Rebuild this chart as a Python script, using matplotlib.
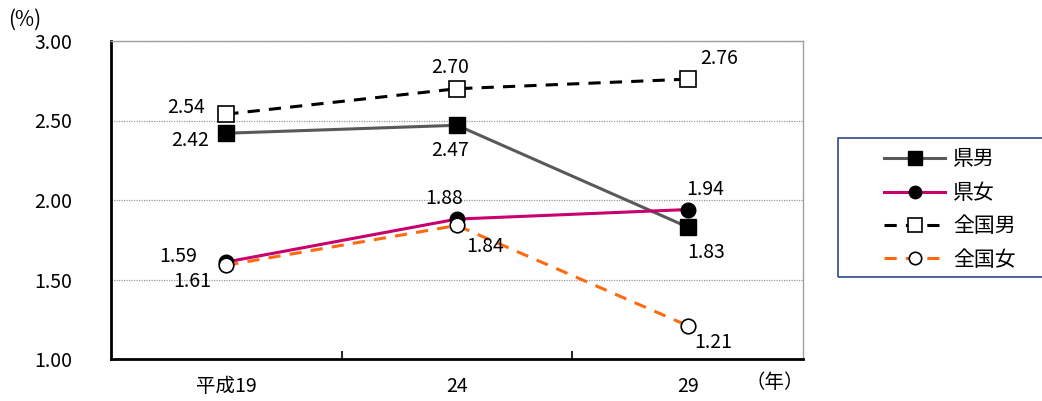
import matplotlib
matplotlib.use("Agg")
import matplotlib.pyplot as plt
from matplotlib.patches import Rectangle
from matplotlib.ticker import FixedLocator, NullFormatter

plt.rcParams['font.family'] = ['Noto Sans CJK JP', 'DejaVu Sans']

# data
years = ["平成19", "24", "29"]
ken_male = [2.42, 2.47, 1.83]
ken_female = [1.61, 1.88, 1.94]
zen_male = [2.54, 2.70, 2.76]
zen_female = [1.59, 1.84, 1.21]
yticks = [1.00, 1.50, 2.00, 2.50, 3.00]

fig = plt.figure(figsize=(10.42, 4.01), dpi=100)
ax = fig.add_axes([111/1042, 1-359/401, 692/1042, 318/401])

x = list(range(len(years)))

ax.plot(x, ken_male, color="#595959", lw=2.2, marker="s", ms=11.5,
        mfc="black", mec="black", label="県男", zorder=3)
ax.plot(x, ken_female, color="#C8006E", lw=2.2, marker="o", ms=10.5,
        mfc="black", mec="black", label="県女", zorder=3)
ax.plot(x, zen_male, color="black", lw=2.2, ls=(0, (4, 3)), marker="s", ms=11.5,
        mfc="white", mec="black", mew=1.2, label="全国男", zorder=4)
ax.plot(x, zen_female, color="#FF6A10", lw=2.2, ls=(0, (4, 3)), marker="o", ms=10.5,
        mfc="white", mec="black", mew=1.2, label="全国女", zorder=4)

# value labels (offsets in pixels from the point)
labels = [
    (0, zen_male[0], -40, 7), (0, ken_male[0], -36, -7),
    (1, zen_male[1], -7, 21), (1, ken_male[1], -7, -25),
    (2, zen_male[2], 31, 21), (2, ken_male[2], 18, -25),
    (1, ken_female[1], -13, 21), (1, zen_female[1], 28, -21),
    (2, ken_female[2], 18, 20), (2, zen_female[2], 26, -17),
    (0, zen_female[0], -48, 9), (0, ken_female[0], -34, -19),
]
for xi, v, dx, dy in labels:
    ax.annotate(f"{v:.2f}", (xi, v), xytext=(dx, dy), textcoords="offset pixels",
                ha="center", va="center", fontsize=14, zorder=6)

ax.set_xlim(-0.5, 2.5)
ax.set_ylim(1.0, 3.0)
ax.set_xticks(x)
ax.set_xticklabels(years, fontsize=14)
ax.tick_params(axis="x", which="major", length=0, pad=12)
ax.xaxis.set_minor_locator(FixedLocator([0.5, 1.5]))
ax.xaxis.set_minor_formatter(NullFormatter())
ax.tick_params(axis="x", which="minor", direction="in", length=6, width=1.2)
ax.set_yticks(yticks)
ax.set_yticklabels([f"{t:.2f}" for t in yticks], fontsize=14)
ax.tick_params(axis="y", length=0, pad=28)

ax.grid(axis="y", color="#999999", ls=(0, (1, 1)), lw=0.9)
for s in ["top", "right"]:
    ax.spines[s].set_color("#A0A0A0")
    ax.spines[s].set_linewidth(1.0)
for s in ["left", "bottom"]:
    ax.spines[s].set_color("black")
    ax.spines[s].set_linewidth(2.0)

fig.text(8/1042, 1-20/401, "(%)", fontsize=15, va="center", ha="left")
fig.text(775/1042, 1-383/401, "（年）", fontsize=14, va="center", ha="center")

# legend frame runs past the right edge of the figure
fig.patches.append(Rectangle((838/1042, 1-277/401), 0.3, 139/401, transform=fig.transFigure,
                             fill=False, edgecolor="#2F4A8A", lw=1.2))
leg = fig.legend(loc="upper left", bbox_to_anchor=(876/1042, 1-140/401),
                 fontsize=15, handlelength=2.9, labelspacing=0.55,
                 handletextpad=0.4, borderaxespad=0, frameon=False,
                 markerscale=0.85)

fig.savefig("out.png", dpi=100)
